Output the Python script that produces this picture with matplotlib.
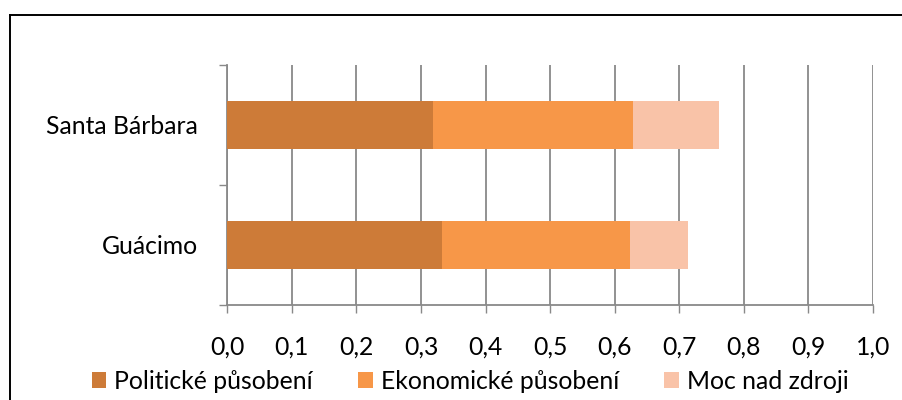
import matplotlib
matplotlib.use("Agg")
import matplotlib.pyplot as plt
from matplotlib.lines import Line2D
from matplotlib.patches import Patch
import numpy as np

# Data
categories = ["Guácimo", "Santa Bárbara"]
political = [0.333, 0.318]
economic = [0.291, 0.310]
resources = [0.090, 0.134]
series_names = ["Politické působení", "Ekonomické působení", "Moc nad zdroji"]
colors = ["#CD7B38", "#F79748", "#F9C3A8"]
xticks = [0.0, 0.1, 0.2, 0.3, 0.4, 0.5, 0.6, 0.7, 0.8, 0.9, 1.0]
xtick_labels = ["0,0", "0,1", "0,2", "0,3", "0,4", "0,5", "0,6", "0,7", "0,8", "0,9", "1,0"]

plt.rcParams["font.family"] = ["Lato", "DejaVu Sans"]
FS = 17.8

W, H = 902, 400
fig = plt.figure(figsize=(W / 100, H / 100), dpi=100)
ax = fig.add_axes([227.3 / W, 1 - 305 / H, (873 - 227.3) / W, (305 - 65) / H])

grid_c = "#898989"
y = np.arange(len(categories))
left = np.zeros(len(categories))
handles = []
for vals, name, c in zip([political, economic, resources], series_names, colors):
    ax.barh(y, vals, left=left, height=0.4, color=c, edgecolor="none", zorder=3)
    left = left + np.array(vals)
    handles.append(Patch(facecolor=c, edgecolor="none", label=name))

ax.set_xlim(0, 1.0)
ax.set_ylim(-0.5, 1.5)

# vertical gridlines
ax.set_xticks(xticks)
ax.set_xticklabels(xtick_labels, fontsize=FS, color="black")
ax.grid(axis="x", color=grid_c, linewidth=1.3, zorder=0)
ax.set_axisbelow(True)

# category boundaries carry the ticks, names sit between them
ax.set_yticks([-0.5, 0.5, 1.5])
ax.set_yticklabels([])
ax.set_yticks(y, minor=True)
ax.set_yticklabels(categories, minor=True, fontsize=FS, color="black")
ax.tick_params(axis="y", which="minor", length=0, pad=21)
ax.tick_params(axis="y", which="major", length=5.5, width=1.0, color=grid_c, direction="out")
ax.tick_params(axis="x", which="major", length=5.5, width=1.0, color=grid_c, direction="out", pad=16.5)

for s in ["top", "right"]:
    ax.spines[s].set_visible(False)
for s in ["left", "bottom"]:
    ax.spines[s].set_color(grid_c)
    ax.spines[s].set_linewidth(1.3)

leg = fig.legend(handles=handles, loc="center", bbox_to_anchor=(470 / W, 1 - 381.5 / H),
                 ncol=3, frameon=False, fontsize=FS, handlelength=0.6, handleheight=0.6,
                 handletextpad=0.3, columnspacing=1.85, borderaxespad=0, borderpad=0)

# outer chart frame
fig.add_artist(Line2D([9.5 / W, 9.5 / W], [0, 1 - 14.5 / H], color="black", linewidth=1.4,
                      transform=fig.transFigure))
fig.add_artist(Line2D([9.5 / W, 1], [1 - 14.5 / H, 1 - 14.5 / H], color="black", linewidth=1.4,
                      transform=fig.transFigure))

fig.savefig("out.png", dpi=100)
